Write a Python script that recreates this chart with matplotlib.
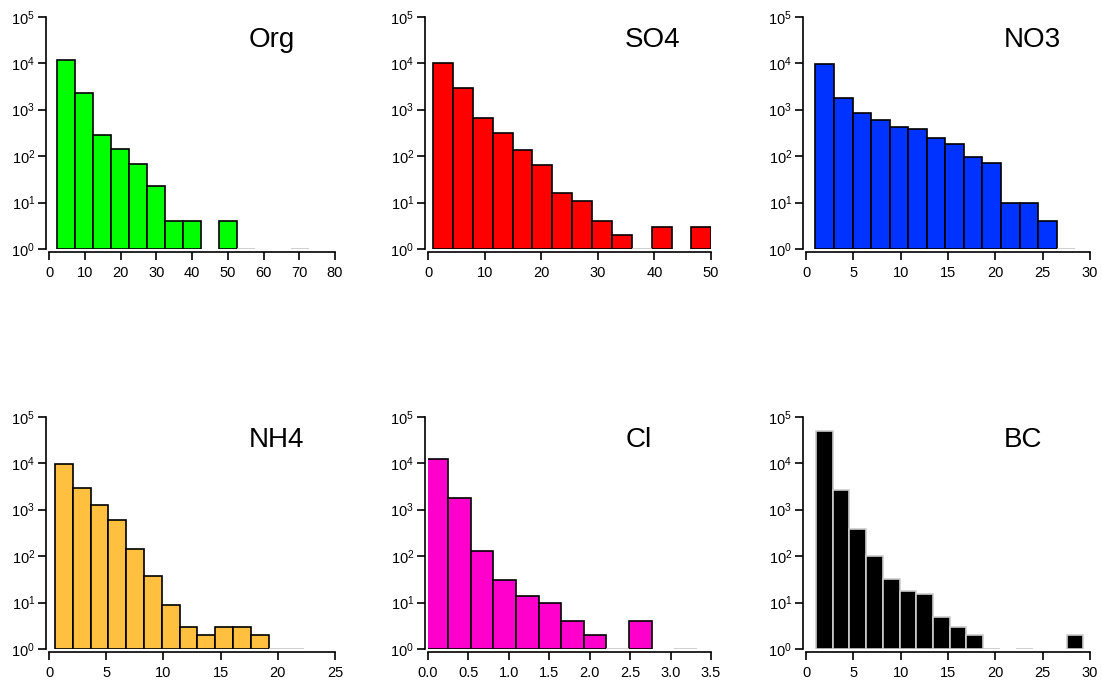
import numpy as np
import matplotlib
matplotlib.use("Agg")
import matplotlib.pyplot as plt
from matplotlib.ticker import LogLocator, NullLocator, FormatStrFormatter

plt.rcParams['font.family'] = ['Liberation Sans', 'DejaVu Sans']
plt.rcParams['mathtext.fontset'] = 'custom'
plt.rcParams['mathtext.rm'] = 'Liberation Sans'

# histogram data (first bin edge, bin width, counts)
org_start, org_width = 2.3, 5.03
org_counts = [11500, 2250, 280, 140, 68, 23, 4, 4, 0, 4, 1, 0, 0, 1]

so4_start, so4_width = 0.9, 3.51
so4_counts = [10300, 2900, 670, 308, 138, 64, 16, 11, 4, 2, 1, 3, 0, 3]

no3_start, no3_width = 1.0, 1.96
no3_counts = [9840, 1785, 850, 608, 416, 377, 249, 179, 98, 71, 10, 10, 4, 1]

nh4_start, nh4_width = 0.53, 1.556
nh4_counts = [9770, 3000, 1290, 590, 141, 38, 9, 3, 2, 3, 3, 2, 1, 1]

cl_start, cl_width = -0.03, 0.2795
cl_counts = [12300, 1790, 128, 31, 14, 10, 4, 2, 1, 4, 0, 1]

bc_start, bc_width = 1.056, 1.765
bc_counts = [48600, 2640, 376, 103, 32, 18, 15, 5, 3, 2, 1, 0, 1, 0, 0, 2]

names = ['Org', 'SO4', 'NO3', 'NH4', 'Cl', 'BC']
starts = [org_start, so4_start, no3_start, nh4_start, cl_start, bc_start]
widths = [org_width, so4_width, no3_width, nh4_width, cl_width, bc_width]
counts = [org_counts, so4_counts, no3_counts, nh4_counts, cl_counts, bc_counts]
colors = ['#00ff00', '#ff0000', '#0033ff', '#ffc040', '#ff00cc', '#000000']
edges = ['black', 'black', 'black', 'black', 'black', '#cccccc']
xmax = [80, 50, 30, 25, 3.5, 30]
xstep = [10, 10, 5, 5, 0.5, 5]

fig = plt.figure(figsize=(11.02, 6.86), dpi=100)

lefts = [0.0445, 0.3884, 0.7314]
aw = [0.2595, 0.2568, 0.2577]
bottoms = [0.637, 0.0539]
ah = 0.3385

for i in range(6):
    row, col = divmod(i, 3)
    ax = fig.add_axes([lefts[col], bottoms[row], aw[col], ah])
    c = np.array(counts[i], dtype=float)
    x = starts[i] + widths[i] * np.arange(len(c))
    big = c > 1
    ax.bar(x[big], c[big] - 1, bottom=1, width=widths[i], align='edge',
           color=colors[i], edgecolor=edges[i], linewidth=1.2)
    # single counts sit right on the 10^0 line
    one = c == 1
    ax.hlines(c[one], x[one], x[one] + widths[i], color='#c8c8c8', linewidth=1.2)

    ax.set_yscale('log')
    ax.set_ylim(1, 1e5)
    ax.set_xlim(0, xmax[i])
    ax.yaxis.set_major_locator(LogLocator(base=10, numticks=10))
    ax.yaxis.set_minor_locator(NullLocator())
    ax.set_xticks(np.arange(0, xmax[i] + xstep[i] / 2, xstep[i]))
    if i == 4:
        ax.xaxis.set_major_formatter(FormatStrFormatter('%.1f'))

    for s in ['top', 'right']:
        ax.spines[s].set_visible(False)
    ax.spines['left'].set_position(('outward', 2))
    ax.spines['bottom'].set_position(('outward', 2))
    ax.spines['left'].set_linewidth(1.2)
    ax.spines['bottom'].set_linewidth(1.2)
    ax.tick_params(axis='x', length=6, width=1.2, labelsize=10.5, pad=4)
    ax.tick_params(axis='y', length=6, width=1.2, labelsize=10.5, pad=2)

    ax.text(0.697, 0.87, names[i], transform=ax.transAxes, fontsize=20,
            ha='left', va='baseline')

fig.savefig('out.png', dpi=100)
